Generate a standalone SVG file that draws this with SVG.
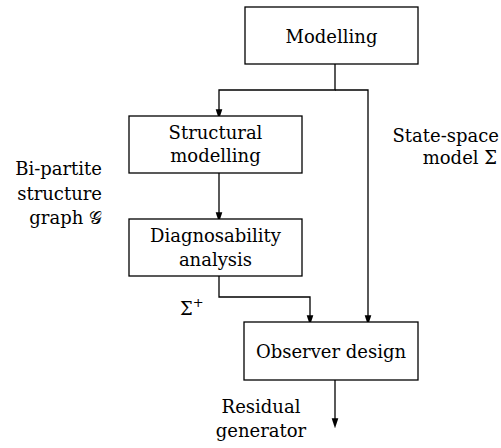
<svg xmlns="http://www.w3.org/2000/svg" width="501" height="448" viewBox="0 0 501 448">
<style>
.box{fill:#fff;stroke:#000;stroke-width:1.3}
.ln{fill:none;stroke:#000;stroke-width:1.3}
text{font-family:"DejaVu Serif","Liberation Serif",serif;font-size:18px;fill:#000}
.c{text-anchor:middle}
.r{text-anchor:end}
</style>
<defs>
<marker id="ah" markerWidth="10" markerHeight="15" refX="10" refY="5" orient="auto" markerUnits="userSpaceOnUse" viewBox="0 0 15 10">
<path d="M0,0 L15,5 L0,10 Z" fill="#000"/>
</marker>
</defs>
<g id="connectors">
<path class="ln" d="M335,64 V90 H219 V116" marker-end="url(#ah)"/>
<path class="ln" d="M335,90 H368 V322" marker-end="url(#ah)"/>
<path class="ln" d="M219,173 V219" marker-end="url(#ah)"/>
<path class="ln" d="M219,276 V297 H310 V322" marker-end="url(#ah)"/>
<path class="ln" d="M335,380 V425" marker-end="url(#ah)"/>
</g>
<g id="modelling">
<rect class="box" x="245" y="7" width="173" height="57"/>
<text class="c" x="331.5" y="43">Modelling</text>
</g>
<g id="structural">
<rect class="box" x="129" y="116" width="173" height="57"/>
<text class="c" x="215.5" y="139">Structural</text>
<text class="c" x="215.5" y="162">modelling</text>
</g>
<g id="diagnosability">
<rect class="box" x="129" y="219" width="173" height="57"/>
<text class="c" x="215.5" y="242">Diagnosability</text>
<text class="c" x="215.5" y="266">analysis</text>
</g>
<g id="observer">
<rect class="box" x="244" y="322" width="174" height="58"/>
<text class="c" x="331" y="358">Observer design</text>
</g>
<g id="labels">
<text class="r" x="102" y="175">Bi-partite</text>
<text class="r" x="102" y="200">structure</text>
<text class="r" x="102" y="224">graph 𝒢</text>
<text x="180" y="315">Σ<tspan font-size="13" dy="-8">+</tspan></text>
<text class="r" x="499" y="142">State-space</text>
<text class="r" x="497" y="164">model Σ</text>
<text class="c" x="261" y="413">Residual</text>
<text class="c" x="261" y="437">generator</text>
</g>
</svg>
